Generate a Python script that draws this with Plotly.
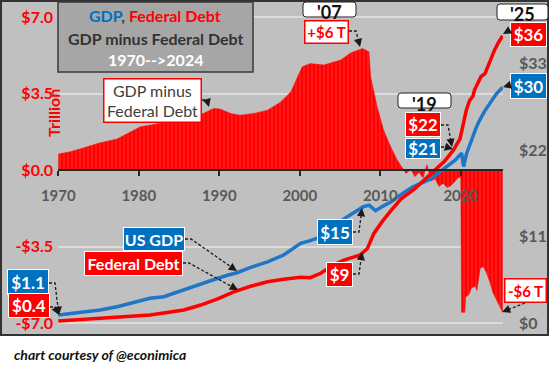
import plotly.graph_objects as go

# ---------------- data ----------------
gap_years = [1970, 1971.5, 1973, 1975, 1977.3, 1979, 1980.2, 1981.4, 1983.5, 1986.4,
             1988, 1989.3, 1990.1, 1991.4, 1992.6, 1994.3, 1996, 1997.6, 1998.9, 2000.3,
             2001.3, 2003, 2005.1, 2006.3, 2007.8, 2008.6, 2008.8, 2009.6, 2010.4, 2011.3,
             2012.1, 2012.7, 2013.2, 2013.8, 2014.3, 2014.8, 2015.3, 2015.8, 2016.3, 2016.8,
             2017.3, 2017.8, 2018.3, 2018.8, 2019.3, 2019.8, 2020.0, 2020.1, 2020.5, 2020.6,
             2021.0, 2021.3, 2021.8, 2022.0, 2022.4, 2022.8, 2023.2, 2023.6, 2024.0, 2024.4,
             2024.8, 2025.2]
gap_values = [0.73, 0.84, 1.0, 1.23, 1.42, 1.75, 1.98, 2.05, 2.2, 2.36,
              2.59, 2.82, 2.79, 2.59, 2.51, 2.59, 2.74, 3.1, 3.58, 4.72,
              4.87, 4.8, 5.03, 5.35, 5.56, 5.4, 4.26, 2.9, 1.83, 1.06,
              0.46, 0.12, -0.15, 0.05, -0.3, -0.1, -0.35, 0.25, -0.5, -0.4,
              -0.75, -0.6, -0.8, -0.7, -0.5, -0.3, -0.4, -6.5, -6.5, -5.8,
              -5.7, -5.4, -5.3, -5.5, -4.5, -4.4, -4.7, -5.1, -5.6, -5.9,
              -6.2, -6.5]

gdp_years = [1970, 1973.1, 1975.2, 1977.3, 1979.4, 1981.4, 1983.1, 1984.8, 1986.8, 1988.9,
             1991, 1992.2, 1993.9, 1996, 1998, 2000.1, 2001.3, 2002.2, 2004, 2005,
             2006, 2006.7, 2007.9, 2008.6, 2009.4, 2010.2, 2011.3, 2012.5, 2014, 2015.1,
             2016.2, 2018, 2019.3, 2020.1, 2020.35, 2020.7, 2021.3, 2021.9, 2022.3, 2023.0,
             2023.8, 2024.4, 2025.2]
gdp_values = [1.05, 1.47, 1.69, 2.1, 2.6, 3.17, 3.38, 4.0, 4.64, 5.4,
              6.1, 6.42, 7.1, 7.8, 8.67, 10.15, 10.5, 10.8, 12.0, 12.9,
              13.6, 14.0, 14.8, 15.0, 14.3, 14.8, 15.4, 16.3, 17.3, 17.8,
              18.3, 19.7, 20.7, 21.6, 19.9, 21.5, 23.2, 24.8, 25.7, 27.0,
              28.2, 29.1, 29.95]

debt_years = [1970, 1973.1, 1977.3, 1981.4, 1985.6, 1987.7, 1989.8, 1991.8, 1993.9, 1996,
              1998, 2000.1, 2001.3, 2002.6, 2004, 2005.4, 2007.5, 2008.4, 2009.2, 2010.3,
              2011.4, 2012.6, 2014.3, 2015.5, 2016.8, 2018, 2019.1, 2019.9, 2020.5, 2020.7,
              2021.1, 2021.5, 2021.7, 2022.1, 2022.5, 2023.0, 2023.4, 2023.8, 2024.2, 2024.6,
              2025.2]
debt_values = [0.3, 0.5, 0.76, 1.05, 1.69, 2.32, 3.1, 4.0, 4.7, 5.28,
               5.58, 5.84, 5.79, 6.35, 7.3, 8.0, 8.67, 9.5, 11.4, 13.0,
               14.4, 15.8, 17.1, 18.2, 19.4, 20.6, 22.0, 23.4, 26.2, 27.1,
               28.3, 28.8, 29.6, 30.5, 31.3, 31.7, 32.8, 33.8, 34.7, 35.5,
               36.5]

x_tick_years = [1970, 1980, 1990, 2000, 2010, 2020]
left_ticks = [-7, -3.5, 0, 3.5, 7]
left_tick_labels = ["-$7.0", "-$3.5", "$0.0", "$3.5", "$7.0"]
right_ticks = [0, 11, 22, 33]
right_tick_labels = ["$0", "$11", "$22", "$33"]

# ---------------- layout helpers ----------------
W, H = 550, 372
ML, MR, MT, MB = 58, 47, 2, 38
PW = W - ML - MR
PH = H - MT - MB


def px(x):
    return (x - ML) / PW


def py(y):
    return (H - MB - y) / PH


RED = "#ff0000"
BLUE_LINE = "#1f76c8"
BLUE_BOX = "#0070c0"
GRAY_TXT = "#595959"
DARK_TXT = "#404040"
FONT = "Lato"

XR = [1969.963, 2025.242]
YL = [-7.489, 7.681]
YR = [-1.358, 40.78]

fig = go.Figure()

fig.add_trace(go.Scatter(
    x=gap_years, y=gap_values, mode="lines", fill="tozeroy",
    line=dict(color=RED, width=0.5),
    fillcolor=RED,
    fillpattern=dict(shape="|", fgcolor="#ff9c9c", bgcolor=RED, size=4, solidity=0.15),
    yaxis="y", showlegend=False, hoverinfo="skip"))

fig.add_trace(go.Scatter(
    x=gdp_years, y=gdp_values, mode="lines",
    line=dict(color=BLUE_LINE, width=3.5), yaxis="y2", showlegend=False))

fig.add_trace(go.Scatter(
    x=debt_years, y=debt_values, mode="lines",
    line=dict(color=RED, width=3.5), yaxis="y2", showlegend=False))

shapes = []
annotations = []

# gray background + frame
shapes.append(dict(type="rect", xref="paper", yref="paper",
                   x0=px(1), x1=px(548), y0=py(335), y1=py(1),
                   fillcolor="#c0c0c0", line=dict(color="#333333", width=2),
                   layer="below"))

# title box
shapes.append(dict(type="rect", xref="paper", yref="paper",
                   x0=px(58), x1=px(253), y0=py(72), y1=py(2),
                   fillcolor="#a6a6a6", line=dict(color="#3a3a3a", width=1.5),
                   layer="above"))


def text(t, x, y, size, color, bold=True, xanchor="center", italic=False, angle=0):
    s = t
    if bold:
        s = "<b>" + s + "</b>"
    if italic:
        s = "<i>" + s + "</i>"
    annotations.append(dict(text=s, x=px(x), y=py(y), xref="paper", yref="paper",
                            showarrow=False, xanchor=xanchor, yanchor="middle",
                            textangle=angle,
                            font=dict(family=FONT, size=size, color=color)))


def box(t, x0, x1, y0, y1, bg, border, color, size, bold=True, bw=1):
    s = "<b>" + t + "</b>" if bold else t
    annotations.append(dict(text=s, x=px((x0 + x1) / 2), y=py((y0 + y1) / 2),
                            xref="paper", yref="paper", showarrow=False,
                            xanchor="center", yanchor="middle",
                            width=x1 - x0 - 2 * bw, height=y1 - y0 - 2 * bw,
                            bgcolor=bg, bordercolor=border, borderwidth=bw, borderpad=0,
                            align="center", valign="middle",
                            font=dict(family=FONT, size=size, color=color)))


def year_tag(t, x0, x1, y0, y1, ty, r=3):
    # rounded white tag with the year text sitting low (overflowing the bottom)
    pts = [
        f"M {px(x0 + r):.5f},{py(y0):.5f}",
        f"L {px(x1 - r):.5f},{py(y0):.5f}",
        f"Q {px(x1):.5f},{py(y0):.5f} {px(x1):.5f},{py(y0 + r):.5f}",
        f"L {px(x1):.5f},{py(y1 - r):.5f}",
        f"Q {px(x1):.5f},{py(y1):.5f} {px(x1 - r):.5f},{py(y1):.5f}",
        f"L {px(x0 + r):.5f},{py(y1):.5f}",
        f"Q {px(x0):.5f},{py(y1):.5f} {px(x0):.5f},{py(y1 - r):.5f}",
        f"L {px(x0):.5f},{py(y0 + r):.5f}",
        f"Q {px(x0):.5f},{py(y0):.5f} {px(x0 + r):.5f},{py(y0):.5f} Z",
    ]
    shapes.append(dict(type="path", xref="paper", yref="paper", path=" ".join(pts),
                       fillcolor="#ffffff", line=dict(color="#222222", width=1),
                       layer="above"))
    text(t, (x0 + x1) / 2, ty, 18, "#111111")


def connector(points):
    # dashed elbow line ending in an arrowhead at the last point
    (tx, ty) = points[-1]
    (sx, sy) = points[-2]
    dx, dy = sx - tx, sy - ty
    d = (dx * dx + dy * dy) ** 0.5
    hx, hy = tx + dx / d * 7, ty + dy / d * 7
    pts = points[:-1] + [(hx, hy)]
    path = "M " + " L ".join(f"{px(a):.5f},{py(b):.5f}" for a, b in pts)
    shapes.append(dict(type="path", xref="paper", yref="paper", path=path,
                       line=dict(color="#1a1a1a", width=1.3, dash="3px,2px"),
                       layer="above"))
    annotations.append(dict(text="", x=px(tx), y=py(ty), xref="paper", yref="paper",
                            ax=hx - tx, ay=hy - ty, showarrow=True, arrowhead=2,
                            arrowsize=1.1, arrowwidth=1.5, arrowcolor="#1a1a1a",
                            standoff=0))


# title texts
text(f"<span style='color:{BLUE_BOX}'>GDP</span>, <span style='color:{RED}'>Federal Debt</span>",
     155, 15, 16, DARK_TXT)
text("GDP minus Federal Debt", 155, 38, 16, "#333333")
text("1970-->2024", 155, 60, 16, "#ffffff")

# axis title
text("Trillion", 53, 113, 16, RED, angle=-90)

# GDP minus Federal Debt label
box("GDP minus<br>Federal Debt", 103, 202, 78, 123, "#ffffff", RED, DARK_TXT, 16, bold=False, bw=1.5)
connector([(202, 100), (207, 100), (209, 107)])

# 2007
year_tag("'07", 303, 356, 2, 17, 12)
box("+$6 T", 304, 349, 20, 44, "#ffffff", RED, RED, 15, bw=1.5)
connector([(349, 31), (356, 31), (360, 47)])

# 2019
year_tag("'19", 398, 451, 93, 108, 104)
box("$22", 405, 441, 112, 137, RED, "#ffffff", "#ffffff", 17)
box("$21", 405, 441, 138, 159, BLUE_BOX, "#ffffff", "#ffffff", 17)
connector([(441, 125), (448, 125), (452, 147)])
connector([(441, 147), (446, 147), (453, 149)])

# 2025
year_tag("'25", 497, 548, 4, 20, 14)
box("$36", 510, 547, 22, 47, RED, "#ffffff", "#ffffff", 17)
box("$30", 510, 547, 73, 99, BLUE_BOX, "#ffffff", "#ffffff", 17)
connector([(510, 30), (503, 34)])
connector([(510, 85), (503, 87)])

# series labels
box("US GDP", 123, 185, 227, 251, BLUE_BOX, "#ffffff", "#ffffff", 16)
box("Federal Debt", 84, 183, 251, 276, RED, "#ffffff", "#ffffff", 16)
connector([(185, 239), (191, 239), (237, 271)])
connector([(183, 263), (189, 263), (238, 290)])

# 1970 values
box("$1.1", 7, 49, 269, 295, BLUE_BOX, "#ffffff", "#ffffff", 17)
box("$0.4", 8, 50, 293, 318, RED, "#ffffff", "#ffffff", 17)
connector([(49, 283), (55, 283), (57, 300), (59, 315)])
connector([(50, 307), (55, 307), (59, 315)])

# 2008 values
box("$15", 317, 353, 219, 245, BLUE_BOX, "#ffffff", "#ffffff", 17)
box("$9", 326, 353, 262, 287, RED, "#ffffff", "#ffffff", 17)
connector([(353, 232), (359, 232), (362, 208)])
connector([(353, 274), (359, 274), (362, 252)])

# -6 T
box("-$6 T", 504, 547, 278, 303, "#ffffff", RED, RED, 15, bw=1.5)
connector([(525, 303), (502, 312)])

# footer
text("chart courtesy of @econimica", 12, 355, 14, "#111111", xanchor="left", italic=True)

xpos = (0 - YL[0]) / (YL[1] - YL[0])

fig.update_layout(
    width=W, height=H,
    margin=dict(l=ML, r=MR, t=MT, b=MB, pad=0),
    paper_bgcolor="#ffffff", plot_bgcolor="rgba(0,0,0,0)",
    font=dict(family=FONT),
    showlegend=False,
    shapes=shapes, annotations=annotations,
    xaxis=dict(range=XR, domain=[0, 1], anchor="free", position=xpos,
               showline=True, linecolor="#262626", linewidth=1.5,
               ticks="outside", ticklen=5, tickwidth=1.5, tickcolor="#262626",
               tickvals=x_tick_years, ticktext=[str(v) for v in x_tick_years],
               tickfont=dict(family=FONT, size=15, color=GRAY_TXT, weight="bold"),
               ticklabelstandoff=7,
               showgrid=False, zeroline=False, fixedrange=True),
    yaxis=dict(range=YL, domain=[0, 1], tickvals=left_ticks, ticktext=left_tick_labels,
               tickfont=dict(family=FONT, size=16, color=RED, weight="bold"),
               ticks="", ticklabelstandoff=4,
               showgrid=True, gridcolor="#dcdcdc", gridwidth=1.5,
               zeroline=False, showline=False),
    yaxis2=dict(range=YR, overlaying="y", side="right", anchor="x",
                tickvals=right_ticks, ticktext=right_tick_labels,
                tickfont=dict(family=FONT, size=16, color=GRAY_TXT, weight="bold"),
                ticks="", ticklabelstandoff=15,
                showgrid=False, zeroline=False, showline=False),
)

fig.write_html("out.html", config={"displayModeBar": False})

# remove the default page margin so the figure sits at the window's top-left corner
with open("out.html", "r", encoding="utf-8") as f:
    html = f.read()
html = html.replace("<head>", "<head><style>html,body{margin:0;padding:0;overflow:hidden;}</style>", 1)
with open("out.html", "w", encoding="utf-8") as f:
    f.write(html)
